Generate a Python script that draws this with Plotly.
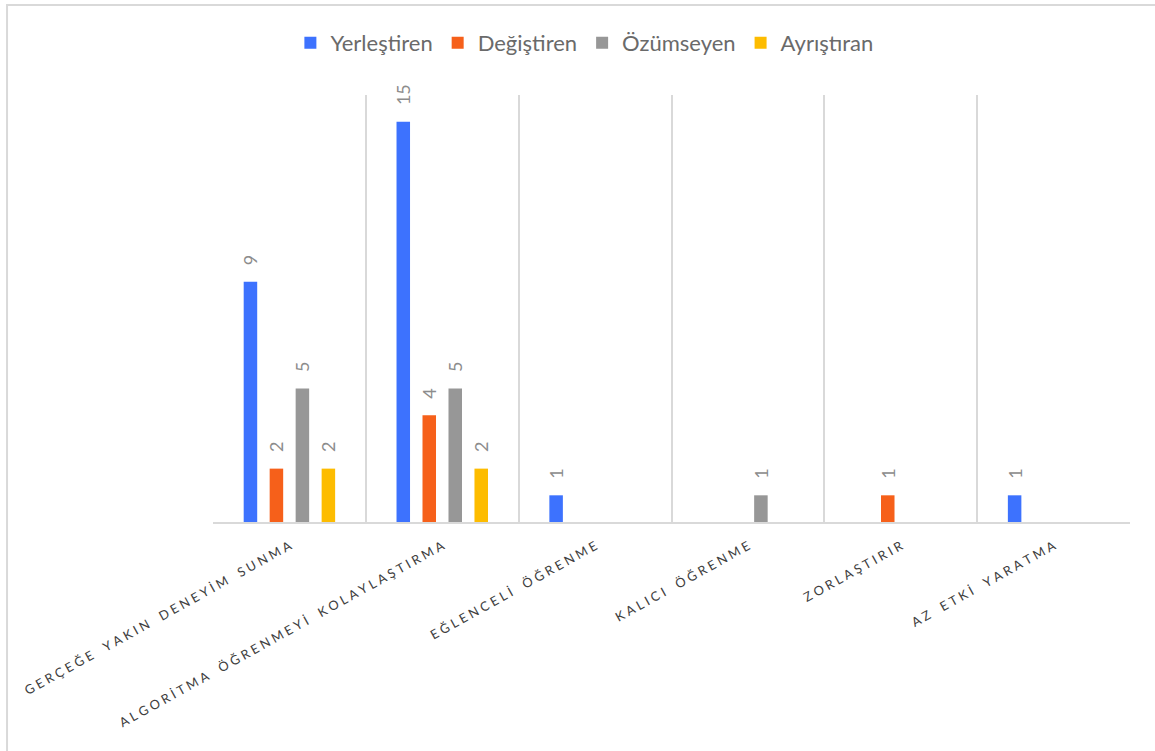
import plotly.graph_objects as go

categories = ["GERÇEĞE YAKIN DENEYİM SUNMA", "ALGORİTMA ÖĞRENMEYİ KOLAYLAŞTIRMA",
              "EĞLENCELİ ÖĞRENME", "KALICI ÖĞRENME", "ZORLAŞTIRIR", "AZ ETKİ YARATMA"]
series_names = ["Yerleştiren", "Değiştiren", "Özümseyen", "Ayrıştıran"]
yerlestiren = [9, 15, 1, None, None, 1]
degistiren = [2, 4, None, None, 1, None]
ozumseyen = [5, 5, None, 1, None, None]
ayristiran = [2, 2, None, None, None, None]
colors = ["#3D72FE", "#F6601A", "#979797", "#FDBC00"]

values = [yerlestiren, degistiren, ozumseyen, ayristiran]


def spaced(s):
    # emulate wide letter spacing with narrow spaces
    out = []
    for ch in s:
        if ch == " ":
            out.append("\u2002")
        else:
            out.append(ch)
    return "\u2005".join(out)


fig = go.Figure()
for name, vals, col in zip(series_names, values, colors):
    fig.add_trace(go.Bar(
        x=categories, y=vals, name=name, marker=dict(color=col, line=dict(width=0)),
        texttemplate="\u2002\u00a0%{y}", textposition="outside", textangle=-90,
        textfont=dict(family="Lato", size=18, color="#8C8C8C"),
        constraintext="none", cliponaxis=False,
    ))

fig.update_layout(
    width=1155, height=751,
    margin=dict(l=213, r=25, t=95, b=229, autoexpand=False),
    paper_bgcolor="white", plot_bgcolor="white",
    barmode="group", bargap=0.32, bargroupgap=0.48,
    font=dict(family="Lato", color="#595959"),
    legend=dict(orientation="h", x=0.405, xanchor="center", y=1.122, yanchor="middle",
                font=dict(family="Lato", size=22, color="#6A6A6A"),
                itemwidth=30, bgcolor="rgba(0,0,0,0)"),
    showlegend=True,
)
fig.update_xaxes(
    type="category", tickson="boundaries", showgrid=True, gridcolor="#D9D9D9", gridwidth=2,
    showline=True, linecolor="#D9D9D9", linewidth=2, ticks="", automargin=False,
    tickvals=categories, ticktext=[spaced(c) for c in categories],
    tickangle=-29, ticklabelstandoff=10,
    tickfont=dict(family="Lato", size=12.8, color="#404040"),
)
fig.update_yaxes(range=[0, 16], visible=False, showgrid=False, zeroline=False)

# outer chart border
fig.add_shape(type="rect", xref="paper", yref="paper",
              x0=-0.2246, x1=1.06, y0=-0.7, y1=1.2108,
              line=dict(color="#D9D9D9", width=2), fillcolor="rgba(0,0,0,0)", layer="below")

fig.write_html("out.html")
